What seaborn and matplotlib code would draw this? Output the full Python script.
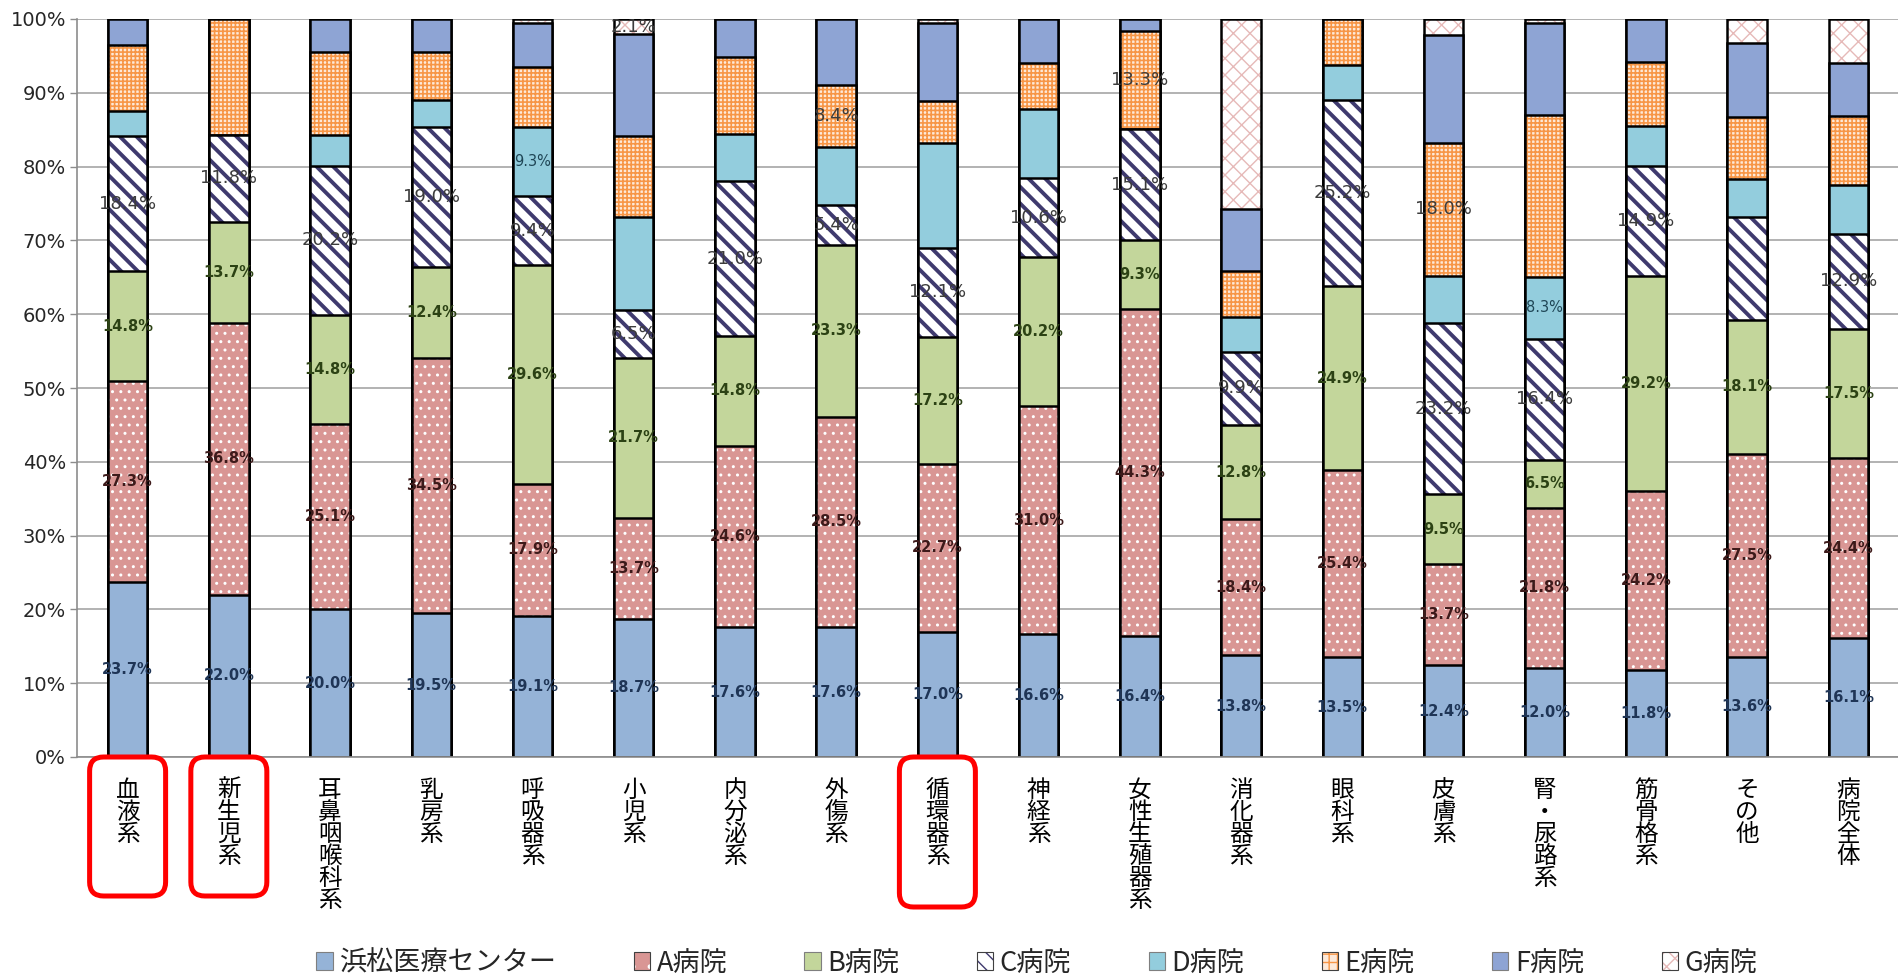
import numpy as np
import matplotlib
matplotlib.use("Agg")
import matplotlib.pyplot as plt
import seaborn as sns
from matplotlib.patches import FancyBboxPatch, Patch
from matplotlib.transforms import IdentityTransform
from matplotlib import font_manager as fm

# ---------------- data ----------------
categories = ["血液系", "新生児系", "耳鼻咽喉科系", "乳房系", "呼吸器系", "小児系",
              "内分泌系", "外傷系", "循環器系", "神経系", "女性生殖器系", "消化器系",
              "眼科系", "皮膚系", "腎・尿路系", "筋骨格系", "その他", "病院全体"]

series_names = ["浜松医療センター", "A病院", "B病院", "C病院", "D病院", "E病院", "F病院", "G病院"]

hamamatsu = [23.7, 22.0, 20.0, 19.5, 19.1, 18.7, 17.6, 17.6, 17.0, 16.6, 16.4, 13.8, 13.5, 12.4, 12.0, 11.8, 13.6, 16.1]
hosp_a = [27.3, 36.8, 25.1, 34.5, 17.9, 13.7, 24.6, 28.5, 22.7, 31.0, 44.3, 18.4, 25.4, 13.7, 21.8, 24.2, 27.5, 24.4]
hosp_b = [14.8, 13.7, 14.8, 12.4, 29.6, 21.7, 14.8, 23.3, 17.2, 20.2, 9.3, 12.8, 24.9, 9.5, 6.5, 29.2, 18.1, 17.5]
hosp_c = [18.4, 11.8, 20.2, 19.0, 9.4, 6.5, 21.0, 5.4, 12.1, 10.6, 15.1, 9.9, 25.2, 23.2, 16.4, 14.9, 14.0, 12.9]
hosp_d = [3.3, 0.0, 4.2, 3.6, 9.3, 12.6, 6.4, 7.9, 14.2, 9.4, 0.0, 4.7, 4.8, 6.4, 8.3, 5.4, 5.1, 6.6]
hosp_e = [9.0, 15.7, 11.2, 6.5, 8.2, 10.9, 10.4, 8.4, 5.7, 6.2, 13.3, 6.2, 6.2, 18.0, 22.0, 8.7, 8.4, 9.4]
hosp_f = [3.5, 0.0, 4.5, 4.5, 6.0, 13.8, 5.2, 8.9, 10.6, 6.0, 1.6, 8.5, 0.0, 14.6, 12.5, 5.8, 10.1, 7.1]
hosp_g = [0.0, 0.0, 0.0, 0.0, 0.5, 2.1, 0.0, 0.0, 0.5, 0.0, 0.0, 25.7, 0.0, 2.2, 0.5, 0.0, 3.2, 6.0]

# which categories carry a value label, per series
labeled_c = [True] * 16 + [False, True]
labeled_d = ["呼吸器系", "腎・尿路系"]
labeled_e = ["外傷系", "女性生殖器系", "皮膚系"]
labeled_g = ["小児系"]

highlighted = ["血液系", "新生児系", "循環器系"]

y_ticks = [0, 10, 20, 30, 40, 50, 60, 70, 80, 90, 100]

# ---------------- style ----------------
sns.set_theme(style="white")
plt.rcParams['font.family'] = ['Noto Sans CJK JP', 'DejaVu Sans']

names = {f.name for f in fm.fontManager.ttflist}
num_font = 'Liberation Sans Narrow' if 'Liberation Sans Narrow' in names else 'DejaVu Sans'

per_patch_hatch_lw = hasattr(Patch, "set_hatch_linewidth")
if not per_patch_hatch_lw:
    plt.rcParams['hatch.linewidth'] = 1.6

# facecolor, hatch, hatch colour, hatch linewidth, label colour, label size, label weight
styles = [
    ("#95B3D7", None, None, 0, "#1F3556", 10.5, "bold"),
    ("#D99694", "..", "#FFFFFF", 1.0, "#3D1A1A", 10.5, "bold"),
    ("#C3D69B", None, None, 0, "#2C4214", 10.5, "bold"),
    ("#FFFFFF", "\\\\", "#3F3A6E", 2.8, "#3C3C3C", 13, "normal"),
    ("#93CDDD", None, None, 0, "#1F4656", 10.5, "normal"),
    ("#FDE9D9", "++++", "#F79646", 1.2, "#3C3C3C", 13, "normal"),
    ("#8EA4D4", None, None, 0, "#1F2F50", 10.5, "normal"),
    ("#FFFFFF", "xx", "#E6B9B8", 1.0, "#3C3C3C", 13, "normal"),
]

all_series = [hamamatsu, hosp_a, hosp_b, hosp_c, hosp_d, hosp_e, hosp_f, hosp_g]
label_masks = [
    [True] * len(categories),
    [True] * len(categories),
    [True] * len(categories),
    labeled_c,
    [c in labeled_d for c in categories],
    [c in labeled_e for c in categories],
    [False] * len(categories),
    [c in labeled_g for c in categories],
]

W, H = 1899, 976
fig = plt.figure(figsize=(W / 100, H / 100), dpi=100)
ax_left_px, ax_bottom_px, ax_top_px = 77, 757, 19
ax = fig.add_axes([ax_left_px / W, 1 - ax_bottom_px / H, 1 - ax_left_px / W, (ax_bottom_px - ax_top_px) / H])

data = np.array(all_series)
cum = np.cumsum(data, axis=0)
bar_w = 0.39
edge_lw = 1.8

# draw back-to-front cumulative bars (seaborn stacked-bar idiom)
for k in range(len(all_series) - 1, -1, -1):
    fc, hatch, hc, hlw, _, _, _ = styles[k]
    if hatch is None:
        sns.barplot(x=categories, y=cum[k], order=categories, color=fc, saturation=1,
                    width=bar_w, errorbar=None, edgecolor="black", linewidth=edge_lw,
                    ax=ax, zorder=2)
    else:
        n0 = len(ax.patches)
        sns.barplot(x=categories, y=cum[k], order=categories, color=fc, saturation=1,
                    width=bar_w, errorbar=None, hatch=hatch, edgecolor=hc, linewidth=0,
                    ax=ax, zorder=2)
        if per_patch_hatch_lw:
            for p in ax.patches[n0:]:
                p.set_hatch_linewidth(hlw)
        sns.barplot(x=categories, y=cum[k], order=categories, color="black", saturation=1,
                    width=bar_w, errorbar=None, fill=False, edgecolor="black",
                    linewidth=edge_lw, ax=ax, zorder=2)

# value labels
for k, vals in enumerate(all_series):
    _, _, _, _, lc, ls, lwt = styles[k]
    bottoms = cum[k] - data[k]
    for i, v in enumerate(vals):
        if label_masks[k][i] and v > 0:
            ax.text(i, bottoms[i] + v / 2, f"{v:.1f}%", ha="center", va="center",
                    fontsize=ls, color=lc, fontweight=lwt, family=num_font,
                    zorder=5, clip_on=False)

# axes styling
ax.set_xlim(-0.5, -0.5 + (W - ax_left_px) / 102.1)
ax.set_ylim(0, 100)
ax.set_yticks(y_ticks)
ax.set_yticklabels([f"{t}%" for t in y_ticks], family=num_font, fontsize=14, color="#262626")
ax.set_xticks(range(len(categories)))
ax.set_xticklabels(["\n".join(c) for c in categories], fontsize=17, linespacing=0.94,
                   va="top", ha="center", color="black")
ax.set_xticks(np.arange(-0.5, len(categories), 1), minor=True)
ax.tick_params(axis="x", which="major", length=0, pad=16)
ax.tick_params(axis="x", which="minor", length=7, color="#8C8C8C", width=1)
ax.tick_params(axis="y", which="major", length=5, color="#8C8C8C", width=1, pad=3, left=True)
ax.set_xlabel("")
ax.set_ylabel("")
ax.yaxis.grid(True, color="#A6A6A6", linewidth=1.2)
ax.xaxis.grid(False)
ax.set_axisbelow(True)
for s in ["top", "right"]:
    ax.spines[s].set_visible(False)
for s in ["left", "bottom"]:
    ax.spines[s].set_color("#8C8C8C")
    ax.spines[s].set_linewidth(1.2)

# red rounded highlight boxes around selected labels
box_heights = {"血液系": 139, "新生児系": 139, "循環器系": 150}
axis_y_disp = ax.transAxes.transform((0, 0))[1]
for name in highlighted:
    i = categories.index(name)
    xc = ax.transData.transform((i, 0))[0]
    bw = 76
    bh = box_heights[name]
    box = FancyBboxPatch((xc - bw / 2, axis_y_disp - bh), bw, bh,
                         boxstyle="round,pad=0,rounding_size=14",
                         transform=IdentityTransform(), fill=False,
                         edgecolor="#FF0000", linewidth=3.6, zorder=10, clip_on=False)
    fig.add_artist(box)

# legend
handles = []
for k, name in enumerate(series_names):
    fc, hatch, hc, hlw, _, _, _ = styles[k]
    if hatch is None:
        handles.append(Patch(facecolor=fc, edgecolor="#7F7F7F", linewidth=0.8))
    else:
        handles.append((Patch(facecolor=fc, hatch=hatch.replace("++++", "++").replace("..", "."),
                              edgecolor=hc, linewidth=0),
                        Patch(facecolor="none", edgecolor="#404040", linewidth=0.8)))
fig.legend(handles, series_names, loc="center", bbox_to_anchor=(0.546, 1 - 963 / H),
           ncol=8, frameon=False, fontsize=19.5, handlelength=0.6, handleheight=0.6,
           handletextpad=0.25, columnspacing=2.85, borderaxespad=0)

fig.savefig("out.png", dpi=100)
